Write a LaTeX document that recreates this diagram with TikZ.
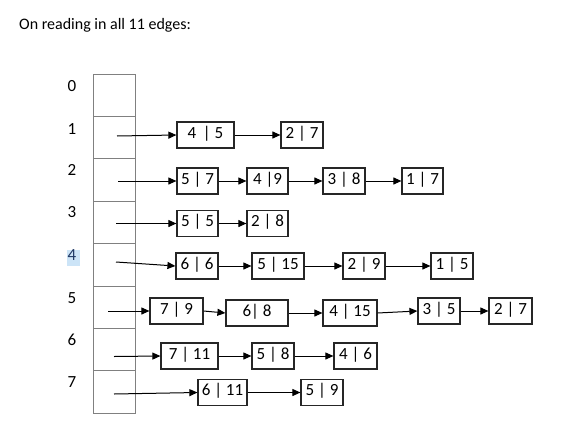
\documentclass[tikz,border=0pt]{standalone}
\usepackage{fontspec}
\setmainfont{Carlito}
\usetikzlibrary{arrows.meta}
\definecolor{arrgray}{RGB}{128,128,128}
\definecolor{boxline}{RGB}{38,38,38}
\definecolor{selblue}{RGB}{204,228,247}
\definecolor{seltext}{RGB}{31,56,100}
\tikzset{
  arrcell/.style={draw=arrgray, line width=0.9pt, minimum width=42pt, minimum height=42.4pt, inner sep=0pt},
  rowlabel/.style={font=\fontsize{17}{20}\selectfont, inner sep=0pt, text height=0.63em, text depth=0pt},
  listbox/.style={draw=boxline, line width=1.2pt, minimum height=26pt, inner sep=0pt,
    font=\fontsize{17}{20}\selectfont, text height=0.63em, text depth=0pt},
  link/.style={draw=black, line width=1pt, -{Triangle[length=8pt,width=7pt]}},
}
\begin{document}
\begin{tikzpicture}[x=1pt,y=-1pt]
\useasboundingbox (0,0) rectangle (577,436);
% title
\node[anchor=base west, inner sep=0pt, font=\fontsize{16}{19}\selectfont] (title) at (19,29.5) {On reading in all 11 edges:};
% array cells
\foreach \i in {0,...,7}{
  \node[arrcell] (a\i) at (114,{95.2+42.4*\i}) {};
}
% highlight behind label 4
\fill[selblue] (66.5,249.5) rectangle (79.5,265.5);
% row labels
\node[rowlabel] (l0) at (72,88.5) {0};
\node[rowlabel] (l1) at (72,131) {1};
\node[rowlabel] (l2) at (72,172.5) {2};
\node[rowlabel] (l3) at (72,214.5) {3};
\node[rowlabel, text=seltext] (l4) at (72,257.5) {4};
\node[rowlabel] (l5) at (72,300) {5};
\node[rowlabel] (l6) at (72,342.5) {6};
\node[rowlabel] (l7) at (72,384.5) {7};
% start points inside the array
\coordinate (s1) at (117,136);
\coordinate (s2) at (118,181);
\coordinate (s3) at (116,223.5);
\coordinate (s4) at (116,262);
\coordinate (s5) at (108,311);
\coordinate (s6) at (114,356.5);
\coordinate (s7) at (114,394);
% row 1
\node[listbox, minimum width=57pt] (b11) at (205.5,135) {4 \,| 5};
\node[listbox, minimum width=42pt] (b12) at (302,135) {2 | 7};
% row 2
\node[listbox, minimum width=41pt] (b21) at (197.5,181) {5 | 7};
\node[listbox, minimum width=41pt] (b22) at (267.5,181) {4 |9};
\node[listbox, minimum width=42pt] (b23) at (344,181) {3 | 8};
\node[listbox, minimum width=41pt] (b24) at (422.5,181) {1 | 7};
% row 3
\node[listbox, minimum width=41pt] (b31) at (197.5,223.5) {5 | 5};
\node[listbox, minimum width=41pt] (b32) at (267.5,223.5) {2 | 8};
% row 4
\node[listbox, minimum width=42pt] (b41) at (197,266) {6 | 6};
\node[listbox, minimum width=52pt] (b42) at (278,266) {5 | 15};
\node[listbox, minimum width=42pt] (b43) at (364,266) {2 | 9};
\node[listbox, minimum width=42pt] (b44) at (452,266) {1 | 5};
% row 5
\node[listbox, minimum width=53pt] (b51) at (176.5,311) {7 | 9};
\node[listbox, minimum width=62pt] (b52) at (257,313) {6| 8};
\node[listbox, minimum width=54pt] (b53) at (350,313) {4 | 15};
\node[listbox, minimum width=42pt] (b54) at (439,311) {3 | 5};
\node[listbox, minimum width=43pt] (b55) at (510.5,311) {2 | 7};
% row 6
\node[listbox, minimum width=57pt] (b61) at (189.5,356) {7 | 11};
\node[listbox, minimum width=42pt] (b62) at (273,356) {5 | 8};
\node[listbox, minimum width=43pt] (b63) at (355.5,356) {4 | 6};
% row 7
\node[listbox, minimum width=49pt] (b71) at (222.5,392.5) {6 | 11};
\node[listbox, minimum width=42pt] (b72) at (322,392.5) {5 | 9};
% connectors
\draw[link] (s1) -- (b11.west);
\draw[link] (b11) -- (b12);
\draw[link] (s2) -- (b21.west);
\draw[link] (b21) -- (b22);
\draw[link] (b22) -- (b23);
\draw[link] (b23) -- (b24);
\draw[link] (s3) -- (b31.west);
\draw[link] (b31) -- (b32);
\draw[link] (s4) -- (b41.west);
\draw[link] (b41) -- (b42);
\draw[link] (b42) -- (b43);
\draw[link] (b43) -- (b44);
\draw[link] (s5) -- (b51.west);
\draw[link] (b51.east) -- (b52.west);
\draw[link] (b52) -- (b53);
\draw[link] (b53.east) -- (b54.west);
\draw[link] (b54) -- (b55);
\draw[link] (s6) -- (b61.west);
\draw[link] (b61) -- (b62);
\draw[link] (b62) -- (b63);
\draw[link] (s7) -- (b71.west);
\draw[link] (b71) -- (b72);
\end{tikzpicture}
\end{document}
